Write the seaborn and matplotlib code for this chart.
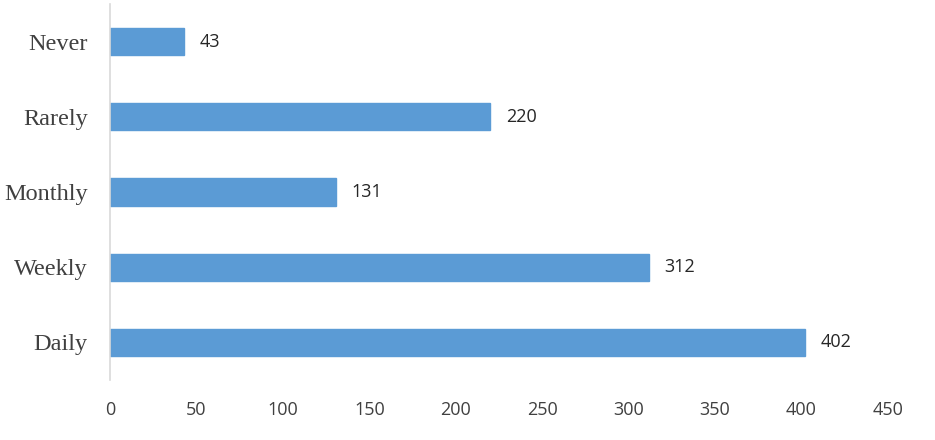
import matplotlib
matplotlib.use("Agg")
import matplotlib.pyplot as plt
import seaborn as sns
import pandas as pd

categories = ["Never", "Rarely", "Monthly", "Weekly", "Daily"]
values = [43, 220, 131, 312, 402]
xticks = [0, 50, 100, 150, 200, 250, 300, 350, 400, 450]

sns.set_style("white")
df = pd.DataFrame({"cat": categories, "val": values})

fig = plt.figure(figsize=(9.35, 4.4), dpi=100)
ax = fig.add_axes([110/935, 1-380/440, (888-110)/935, (380-4)/440])
sns.barplot(data=df, y="cat", x="val", orient="h", color="#5B9BD5",
            width=0.36, saturation=1, ax=ax, edgecolor="#5B9BD5")

ax.set_xlim(0, 450)
ax.set_ylim(4.5, -0.5)
ax.set_xticks(xticks)
ax.set_xticklabels([str(t) for t in xticks], fontsize=13,
                   family=["Open Sans", "DejaVu Sans"], color="#404040")
ax.set_yticklabels(categories, fontsize=17.5, family=["Liberation Serif"], color="#404040")
ax.tick_params(axis="x", length=0, pad=15)
ax.tick_params(axis="y", length=0, pad=16)
ax.set_xlabel("")
ax.set_ylabel("")
for s in ["top", "right", "bottom"]:
    ax.spines[s].set_visible(False)
ax.spines["left"].set_color("#d9d9d9")
ax.spines["left"].set_linewidth(1.2)

for c in ax.containers:
    ax.bar_label(c, labels=[str(v) for v in values], padding=11, fontsize=13,
                 family=["Open Sans", "DejaVu Sans"], color="#262626")

fig.savefig("out.png", dpi=100)
